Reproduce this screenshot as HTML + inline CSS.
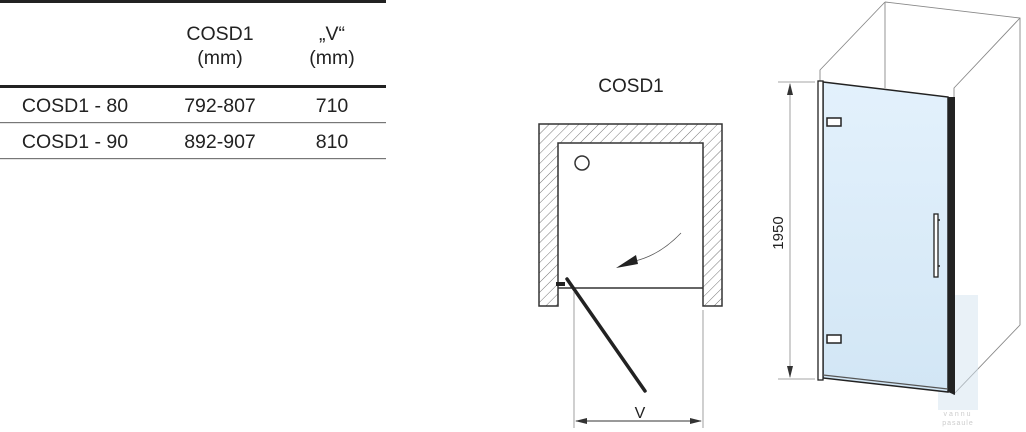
<!DOCTYPE html>
<html><head><meta charset="utf-8"><style>
html,body{margin:0;padding:0;background:#fff;width:1026px;height:432px;overflow:hidden}
</style></head><body>
<svg width="1026" height="432" viewBox="0 0 1026 432" xmlns="http://www.w3.org/2000/svg" font-family="Liberation Sans, sans-serif">
<defs>
<pattern id="h" width="7" height="7" patternUnits="userSpaceOnUse" patternTransform="rotate(45)">
<line x1="0" y1="0" x2="0" y2="7" stroke="#666" stroke-width="0.9"/>
</pattern>
<linearGradient id="g" x1="0" y1="0" x2="0" y2="1"><stop offset="0" stop-color="#e3f1fc"/><stop offset="1" stop-color="#d2e6f5"/></linearGradient>
</defs>
<!-- table -->
<rect x="0" y="0" width="386" height="3" fill="#222"/>
<rect x="0" y="85" width="386" height="3" fill="#222"/>
<rect x="0" y="122" width="386" height="1.2" fill="#777"/>
<rect x="0" y="158" width="386" height="1.2" fill="#777"/>
<g font-size="19.5" fill="#222" text-anchor="middle">
<text x="220" y="40">COSD1</text>
<text x="220" y="64">(mm)</text>
<text x="332" y="40">„V“</text>
<text x="332" y="64">(mm)</text>
<text x="75" y="112">COSD1 - 80</text>
<text x="220" y="112">792-807</text>
<text x="332" y="112">710</text>
<text x="75" y="148">COSD1 - 90</text>
<text x="220" y="148">892-907</text>
<text x="332" y="148">810</text>
</g>
<!-- plan -->
<text x="631" y="92" font-size="19" fill="#222" text-anchor="middle">COSD1</text>
<path d="M539 124 H722 V306 H703 V143 H558 V306 H539 Z" fill="url(#h)" stroke="#333" stroke-width="1.5"/>
<line x1="558" y1="288" x2="703" y2="288" stroke="#333" stroke-width="1.5"/>
<circle cx="582" cy="163" r="7" fill="none" stroke="#333" stroke-width="1.5"/>
<path d="M681 233 Q660 255 635 261" fill="none" stroke="#555" stroke-width="0.8"/>
<path d="M616 268 L636 255 L638 264 Z" fill="#222"/>
<rect x="556" y="282" width="9" height="4" fill="#222"/>
<line x1="567" y1="279" x2="645" y2="391" stroke="#222" stroke-width="3.5" stroke-linecap="round"/>
<line x1="574" y1="292" x2="574" y2="428" stroke="#888" stroke-width="0.8"/>
<line x1="703" y1="310" x2="703" y2="428" stroke="#888" stroke-width="0.8"/>
<line x1="576" y1="421" x2="701" y2="421" stroke="#333" stroke-width="1"/>
<path d="M575 421 L587 418 L587 424 Z M702 421 L690 418 L690 424 Z" fill="#333"/>
<text x="640" y="418" font-size="16" fill="#222" text-anchor="middle">V</text>
<!-- 3D -->
<g stroke="#888" stroke-width="0.9" fill="none">
<path d="M885 2 L1020 18 L1020 325 L953 395"/>
<path d="M885 2 L820 70 L820 82"/>
<path d="M885 2 V88"/>
<path d="M1020 18 L954 88 V97"/>
</g>
<rect x="938" y="295" width="40" height="115" fill="#d4e3ef" opacity="0.5"/>
<polygon points="823,82 948,97 948,392 823,378" fill="url(#g)" stroke="#222" stroke-width="1.5"/>
<rect x="818" y="81" width="5" height="299" fill="#fff" stroke="#222" stroke-width="1.3"/>
<polygon points="948,97 955,97 955,395 948,392" fill="#222"/>
<line x1="823" y1="375" x2="948" y2="389" stroke="#555" stroke-width="1.2"/>
<rect x="827" y="118" width="14" height="8" fill="#fff" stroke="#222" stroke-width="1.5"/>
<rect x="827" y="335" width="14" height="8" fill="#fff" stroke="#222" stroke-width="1.5"/>
<rect x="934" y="214" width="4" height="63" fill="#fff" stroke="#222" stroke-width="1.3"/>
<line x1="938" y1="220" x2="940" y2="220" stroke="#222" stroke-width="1.5"/>
<line x1="938" y1="266" x2="940" y2="266" stroke="#222" stroke-width="1.5"/>
<g stroke="#888" stroke-width="0.8">
<line x1="778" y1="82" x2="815" y2="82"/>
<line x1="778" y1="379" x2="815" y2="379"/>
<line x1="790" y1="84" x2="790" y2="377"/>
</g>
<path d="M790 83 L787 95 L793 95 Z M790 378 L787 366 L793 366 Z" fill="#333"/>
<text x="0" y="0" font-size="15" fill="#222" text-anchor="middle" transform="translate(783,233) rotate(-90)">1950</text>
<text x="958" y="416" font-size="7" fill="#ccc" text-anchor="middle" letter-spacing="2">vannu</text>
<text x="958" y="425" font-size="7" fill="#ccc" text-anchor="middle" letter-spacing="1">pasaule</text>
</svg>
</body></html>
